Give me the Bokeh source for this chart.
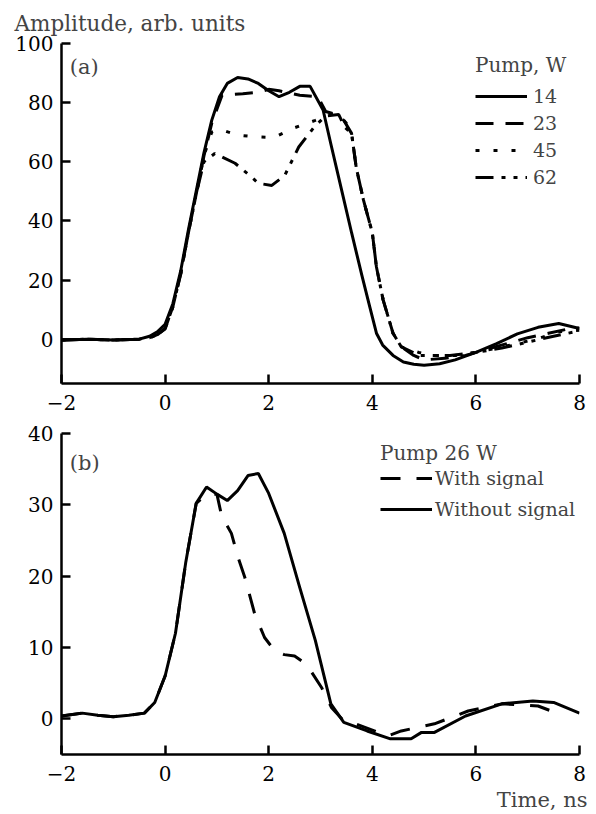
from bokeh.plotting import figure
from bokeh.models import Legend, LegendItem, Label, Title, FixedTicker, Range1d
from bokeh.layouts import column
from bokeh.embed import file_html
from bokeh.resources import INLINE

FONT = "DejaVu Serif"

# ---------------- data: panel (a) ----------------
x14 = [-2, -1.5, -1.0, -0.5, -0.3, -0.15, 0.0, 0.15, 0.3, 0.45, 0.6, 0.75, 0.9, 1.05, 1.2, 1.4,
       1.6, 1.8, 2.0, 2.2, 2.4, 2.6, 2.8, 3.05, 3.2, 3.4, 3.6, 3.8, 3.95, 4.08, 4.2, 4.4, 4.6,
       4.8, 5.0, 5.3, 5.6, 6.0, 6.4, 6.8, 7.2, 7.6, 8.0]
y14 = [-0.3, 0.0, -0.3, 0.0, 1.0, 2.5, 5.0, 12, 23, 37, 50, 63, 74, 82, 86.5, 88.5,
       88, 86.5, 84, 82, 83.5, 85.5, 85.5, 77.5, 66, 51, 36, 21.5, 11, 2, -2, -5.5, -7.7,
       -8.5, -8.8, -8.3, -7, -4.5, -1.5, 1.8, 4, 5.3, 3.6]

x23 = [-2, -1.5, -1.0, -0.5, -0.3, -0.15, 0.0, 0.15, 0.3, 0.45, 0.6, 0.75, 0.9, 1.1, 1.5,
       1.8, 2.0, 2.2, 2.6, 2.95, 3.1, 3.3, 3.45, 3.6, 3.69, 3.83, 4.0, 4.08, 4.21, 4.4, 4.56,
       4.8, 5.0, 5.4, 5.8, 6.2, 6.6, 7.0, 7.4, 7.8, 8.0]
y23 = [-0.3, 0.0, -0.3, 0.0, 0.5, 1.5, 3.5, 11, 22, 36, 49, 62, 73, 82.5, 83,
       83.5, 84.5, 84, 82.5, 82, 77, 76, 74, 69.6, 58, 47, 36, 24.4, 13.2, 2, -2.6,
       -5.5, -7, -6.5, -5.5, -3.5, -1.5, 0.5, 2, 3.5, 3.8]

x45 = [-2, -1.5, -1.0, -0.5, -0.3, -0.15, 0.0, 0.15, 0.3, 0.45, 0.6, 0.75, 0.9, 1.05, 1.4,
       1.7, 2.1, 2.5, 2.9, 3.2, 3.35, 3.5, 3.6, 3.69, 3.83, 4.0, 4.08, 4.21, 4.4, 4.56,
       4.9, 5.2, 5.6, 6.0, 6.4, 6.8, 7.2, 7.6, 8.0]
y45 = [-0.3, 0.0, -0.3, 0.0, 0.5, 1.5, 3.5, 11, 22, 36, 49, 62, 70, 71, 69,
       68.5, 68.2, 71.5, 74, 76, 76, 73, 69.6, 58, 47, 36, 24.4, 13.2, 2, -2.6,
       -4.5, -5.5, -5.5, -4.5, -3, -1.5, 0.2, 2.5, 3.0]

x62 = [-2, -1.5, -1.0, -0.5, -0.3, -0.15, 0.0, 0.15, 0.3, 0.45, 0.6, 0.75, 0.96, 1.35,
       1.67, 1.8, 2.06, 2.31, 2.58, 2.89, 3.1, 3.35, 3.47, 3.6, 3.69, 3.83, 4.0, 4.08, 4.21,
       4.4, 4.56, 4.9, 5.5, 6.0, 6.5, 7.0, 7.5, 8.0]
y62 = [-0.3, 0.0, -0.3, 0.0, 0.5, 1.5, 3.5, 11, 22, 36, 49, 60, 62.8, 59.5,
       54.8, 52.7, 52, 55.4, 65, 72, 75.5, 76, 71.6, 69.6, 58, 47, 36, 24.4, 13.2,
       2, -2.6, -5.5, -5.5, -4.5, -3, -1, 1, 2.8]

pump_labels = ["14", "23", "45", "62"]

# ---------------- data: panel (b) ----------------
x_wo = [-2, -1.6, -1.3, -1.0, -0.7, -0.4, -0.2, 0.0, 0.2, 0.4, 0.6, 0.8, 1.0, 1.2, 1.4, 1.6,
        1.8, 2.0, 2.3, 2.6, 2.9, 3.2, 3.45, 3.9, 4.35, 4.75, 4.95, 5.2, 5.8, 6.5, 7.1, 7.5, 8.0]
y_wo = [0.4, 0.8, 0.5, 0.3, 0.5, 0.8, 2.3, 6, 12, 22, 30.2, 32.5, 31.5, 30.6, 32, 34.1,
        34.4, 31.6, 26, 18.4, 11, 2.1, -0.5, -1.7, -2.8, -2.8, -1.9, -1.9, 0.4, 2.1, 2.5, 2.3, 0.8]

x_w = [-2, -1.6, -1.3, -1.0, -0.7, -0.4, -0.2, 0.0, 0.2, 0.4, 0.6, 0.8, 1.0, 1.09, 1.28, 1.41,
       1.54, 1.73, 1.92, 2.12, 2.3, 2.5, 2.64, 2.77, 3.02, 3.21, 3.45, 3.6, 4.3, 4.56, 5.2,
       5.85, 6.5, 6.8, 7.2, 7.6]
y_w = [0.4, 0.8, 0.5, 0.3, 0.5, 0.8, 2.3, 6, 12, 22, 30.2, 31.5, 31.5, 28.5, 26, 22.6,
       19.8, 14.7, 11.4, 9.5, 9.0, 8.8, 8.1, 7.2, 4.4, 1.6, -0.3, -0.5, -2.4, -1.7, -0.7,
       1.1, 2.1, 2.0, 1.8, 0.7]

b_labels = ["With signal", "Without signal"]

x_ticks = [-2, 0, 2, 4, 6, 8]
ya_ticks = [0, 20, 40, 60, 80, 100]
yb_ticks = [0, 10, 20, 30, 40]


def style(p, yticks):
    p.xgrid.visible = False
    p.ygrid.visible = False
    p.outline_line_color = None
    p.background_fill_color = "white"
    p.border_fill_color = "white"
    for ax in (p.xaxis[0], p.yaxis[0]):
        ax.axis_line_width = 2.5
        ax.axis_line_color = "black"
        ax.major_tick_line_width = 2.5
        ax.major_tick_line_color = "black"
        ax.major_tick_in = 9
        ax.major_tick_out = 0
        ax.minor_tick_line_color = None
        ax.major_label_text_font = FONT
        ax.major_label_text_font_size = "20px"
        ax.major_label_text_color = "black"
    p.xaxis[0].major_label_standoff = 11
    p.yaxis[0].major_label_standoff = 8
    p.xaxis[0].ticker = FixedTicker(ticks=x_ticks)
    p.yaxis[0].ticker = FixedTicker(ticks=yticks)
    p.xaxis[0].major_label_overrides = {t: str(t).replace("-", "\u2212") for t in x_ticks}


def style_legend(lg, standoff, spacing, title_standoff, row_h):
    lg.title_text_font = FONT
    lg.title_text_font_size = "20px"
    lg.title_text_font_style = "normal"
    lg.label_text_font = FONT
    lg.label_text_font_size = "19px"
    lg.glyph_width = 52
    lg.glyph_height = row_h
    lg.label_height = row_h
    lg.label_standoff = standoff
    lg.spacing = spacing
    lg.title_standoff = title_standoff
    lg.padding = 0
    lg.margin = 0
    lg.border_line_color = None
    lg.background_fill_alpha = 0


# ---------------- figure (a) ----------------
pa = figure(width=596, height=415, output_backend="svg", toolbar_location=None,
            x_range=Range1d(-2, 8), y_range=Range1d(-15, 100),
            min_border_left=61, min_border_right=17, min_border_top=43, min_border_bottom=32)
style(pa, ya_ticks)
pa.title.text = "Amplitude, arb. units"
pa.title.text_font = FONT
pa.title.text_font_size = "21.5px"
pa.title.text_font_style = "normal"
pa.title.align = "left"
pa.title.offset = -47
pa.title.standoff = 12
pa.title.vertical_align = "top"

r14 = pa.line(x14, y14, line_width=3, color="black")
r23 = pa.line(x23, y23, line_width=3, color="black", line_dash="18 12")
r45 = pa.line(x45, y45, line_width=3, color="black", line_dash="4 14")
r62 = pa.line(x62, y62, line_width=3, color="black", line_dash="18 8 4 8 4 8")

leg_a = Legend(items=[LegendItem(label=l, renderers=[r]) for l, r in zip(pump_labels, [r14, r23, r45, r62])],
               title="Pump, W", location=(414, 194))
style_legend(leg_a, 6, 3, 7, 24)
pa.add_layout(leg_a)
pa.add_layout(Label(x=-1.84, y=92, text="(a)", text_font=FONT, text_font_size="21px",
                    text_baseline="middle", text_align="left"))

# ---------------- figure (b) ----------------
pb = figure(width=596, height=399, output_backend="svg", toolbar_location=None,
            x_range=Range1d(-2, 8), y_range=Range1d(-5, 40),
            min_border_left=61, min_border_right=17, min_border_top=18, min_border_bottom=59)
style(pb, yb_ticks)
rw = pb.line(x_w, y_w, line_width=3, color="black", line_dash="20 16")
rwo = pb.line(x_wo, y_wo, line_width=3, color="black")
leg_b = Legend(items=[LegendItem(label=b_labels[0], renderers=[rw]),
                      LegendItem(label=b_labels[1], renderers=[rwo])],
               title="Pump 26 W", location=(319, 234))
style_legend(leg_b, 3, 9, 2, 22)
pb.add_layout(leg_b)
pb.add_layout(Label(x=-1.84, y=35.9, text="(b)", text_font=FONT, text_font_size="21px",
                    text_baseline="middle", text_align="left"))
tb = Title(text="Time, ns", align="right", text_font=FONT, text_font_size="21px",
           text_font_style="normal", standoff=5, offset=-8)
pb.add_layout(tb, "below")

layout = column(pa, pb, spacing=0)
open("out.html", "w").write(file_html(layout, INLINE))
